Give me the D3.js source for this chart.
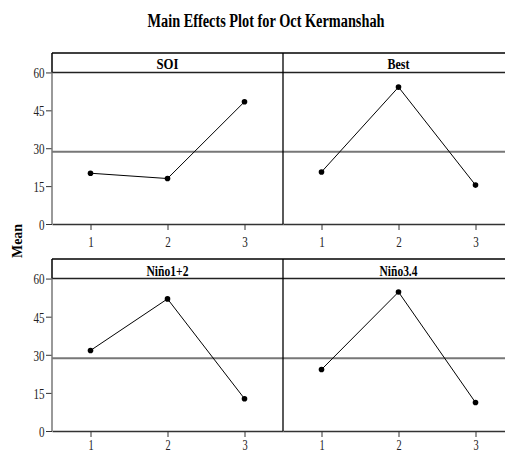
<!DOCTYPE html>
<html><head><meta charset="utf-8">
<script src="https://cdn.jsdelivr.net/npm/d3@7"></script>
<style>body{margin:0;background:#fff}svg{display:block}text{font-family:"Liberation Serif","Times New Roman",serif}</style>
</head><body><div id="chart"></div>
<script>
const title = "Main Effects Plot for Oct Kermanshah";
const yLabel = "Mean";
const panels = ["SOI", "Best", "Niño1+2", "Niño3.4"];
const levels = [1, 2, 3];
const soi = [20.1, 18.0, 48.4];
const best = [20.6, 54.2, 15.4];
const nino12 = [31.7, 52.0, 12.7];
const nino34 = [24.2, 54.7, 11.2];
const grandMean = 28.6;
const yTicks = [0, 15, 30, 45, 60];
const seriesList = [soi, best, nino12, nino34];
const headerWidths = [22, 22, 42, 38];

const W = 505, H = 455;
const SX = 0.74;
const svg = d3.select("#chart").append("svg").attr("width", W).attr("height", H);

svg.append("text").attr("x", 266).attr("y", 27).attr("text-anchor", "middle")
  .attr("font-size", 18).attr("font-weight", "bold")
  .attr("textLength", 237).attr("lengthAdjust", "spacingAndGlyphs").text(title);

svg.append("text").attr("transform", "translate(22,241) rotate(-90)")
  .attr("text-anchor", "middle").attr("font-size", 14).attr("font-weight", "bold")
  .attr("textLength", 34).attr("lengthAdjust", "spacingAndGlyphs").text(yLabel);

const pw = 231;
const lefts = [52, 283];
const rows = [{top: 53, bottom: 224, lab: 247, fs: 15}, {top: 259, bottom: 431, lab: 450, fs: 14}];

panels.forEach((name, i) => {
  const col = i % 2, row = Math.floor(i / 2);
  const x0 = lefts[col], r = rows[row];
  const x = d3.scaleLinear().domain([0.5, 3.5]).range([x0, x0 + pw]);
  const y = d3.scaleLinear().domain([0, 67.7]).range([r.bottom, r.top]);
  const g = svg.append("g");

  g.append("line").attr("x1", x0).attr("x2", x0 + pw)
    .attr("y1", y(grandMean)).attr("y2", y(grandMean))
    .attr("stroke", "#777").attr("stroke-width", 2);

  g.append("line").attr("x1", x0).attr("x2", x0 + pw).attr("y1", r.top).attr("y2", r.top)
    .attr("stroke", "#000").attr("stroke-width", 1.5);
  g.append("line").attr("x1", x0).attr("x2", x0 + pw).attr("y1", y(60)).attr("y2", y(60))
    .attr("stroke", "#222").attr("stroke-width", 1.5);
  g.append("text").attr("x", x0 + pw / 2).attr("y", y(60) - 3)
    .attr("text-anchor", "middle").attr("font-size", 14.5).attr("font-weight", "bold")
    .attr("textLength", headerWidths[i]).attr("lengthAdjust", "spacingAndGlyphs").text(name);

  const xa = g.append("g").attr("transform", `translate(0,${r.bottom})`)
    .call(d3.axisBottom(x).tickValues(levels).tickSize(6).tickSizeOuter(0).tickFormat(d3.format("d")));
  xa.select(".domain").attr("stroke", "#333").attr("stroke-width", 1.5);
  xa.selectAll(".tick line").attr("stroke", "#333");
  xa.selectAll("text").attr("font-size", r.fs).attr("font-family", "Liberation Serif")
    .attr("y", r.lab - r.bottom).attr("dy", 0).attr("fill", "#222")
    .attr("transform", `scale(${SX},1)`);

  if (col === 0) {
    const ya = g.append("g").attr("transform", `translate(${x0},0)`)
      .call(d3.axisLeft(y).tickValues(yTicks).tickSize(6).tickSizeOuter(0));
    ya.select(".domain").remove();
    ya.selectAll(".tick line").attr("stroke", "#333");
    ya.selectAll("text").attr("font-size", 15).attr("font-family", "Liberation Serif")
      .attr("x", -7.5 / SX).attr("dy", "0.36em").attr("fill", "#222")
      .attr("transform", `scale(${SX},1)`);
    g.append("line").attr("x1", x0).attr("x2", x0).attr("y1", r.top).attr("y2", y(60))
      .attr("stroke", "#000").attr("stroke-width", 1.5);
    g.append("line").attr("x1", x0).attr("x2", x0).attr("y1", y(60)).attr("y2", r.bottom)
      .attr("stroke", "#777").attr("stroke-width", 1.5);
  } else {
    g.append("line").attr("x1", x0).attr("x2", x0).attr("y1", r.top).attr("y2", r.bottom)
      .attr("stroke", "#000").attr("stroke-width", 1.3);
  }

  const vals = seriesList[i];
  const pts = levels.map((l, k) => [l, vals[k]]);
  g.append("path").datum(pts)
    .attr("d", d3.line().x(d => x(d[0])).y(d => y(d[1])))
    .attr("fill", "none").attr("stroke", "#000").attr("stroke-width", 1);
  g.selectAll("circle").data(pts).join("circle")
    .attr("cx", d => x(d[0])).attr("cy", d => y(d[1])).attr("r", 2.8).attr("fill", "#000");
});
</script></body></html>
